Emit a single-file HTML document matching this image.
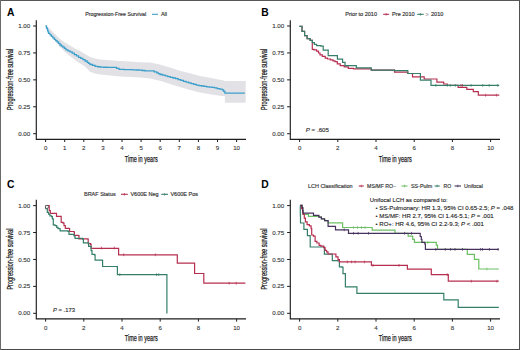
<!DOCTYPE html>
<html><head><meta charset="utf-8"><style>
html,body{margin:0;padding:0;background:#fff;width:520px;height:350px;overflow:hidden}
svg{display:block}
text{font-family:"Liberation Sans", sans-serif}
</style></head><body>
<svg width="520" height="350" viewBox="0 0 520 350" font-family='"Liberation Sans", sans-serif'>
<rect x="0" y="0" width="520" height="350" fill="#fff"/>
<path d="M45.50,25.50L50.00,29.00L55.00,34.00L60.00,39.00L65.00,42.50L70.00,45.50L75.00,48.50L80.00,51.00L85.00,54.00L90.00,57.00L95.00,58.60L100.00,59.50L110.00,60.20L120.00,61.00L130.00,61.60L140.00,62.20L150.00,62.60L160.00,64.60L170.00,67.40L180.00,70.80L190.00,73.20L200.00,76.00L210.00,77.80L220.00,79.80L224.90,80.80L224.90,81.10L245.70,81.10L245.70,102.70L224.90,102.70L224.90,96.30L220.00,95.80L210.00,94.20L200.00,92.50L190.00,90.00L180.00,87.00L170.00,84.00L160.00,80.80L150.00,78.50L140.00,77.60L130.00,77.00L120.00,76.50L110.00,75.50L100.00,74.50L95.00,73.50L90.00,71.70L85.00,66.50L80.00,63.50L75.00,60.00L70.00,56.00L65.00,52.00L60.00,47.00L55.00,41.00L50.00,33.00L45.50,26.50Z" fill="#e2e1e6" stroke="none"/>
<path d="M45.50,26.00H46.50V28.25H47.50V30.50H48.05V31.95H48.60V33.40H50.00V34.90H51.40V36.40H52.85V37.85H54.30V39.30H55.70V40.55H57.10V41.80H58.55V43.40H60.00V45.00H61.45V46.05H62.90V47.10H64.45V48.45H66.00V49.80H68.00V50.80H70.00V51.80H72.15V53.20H74.30V54.60H76.45V55.95H78.60V57.30H80.75V58.45H82.90V59.60H85.00V61.00H87.10V62.40H88.55V63.45H90.00V64.50H92.55V65.45H95.10V66.40H97.70V66.75H100.30V67.10H103.70V67.25H107.10V67.40H110.55V67.40H114.00V67.40H116.55V68.35H119.10V69.30H121.70V69.45H124.30V69.60H128.55V69.70H132.80V69.80H136.25V70.00H139.70V70.20H142.25V70.50H144.80V70.80H148.25V70.85H151.70V70.90H154.25V71.90H156.80V72.90H158.40V73.70H160.00V74.50H162.60V75.20H165.20V75.90H167.80V76.60H170.40V77.30H173.00V78.00H175.60V78.70H178.20V79.55H180.80V80.40H183.40V81.30H186.00V82.20H188.60V82.95H191.20V83.70H193.75V84.40H196.30V85.10H198.90V85.55H201.50V86.00H204.10V86.40H206.70V86.80H209.30V87.05H211.90V87.30H214.50V87.95H217.10V88.60H219.70V89.20H222.30V89.80H223.60V91.45H224.90V93.10H234.85V93.10H244.80V93.10" fill="none" stroke="#3b9fcb" stroke-width="1.3"/>
<path d="M36.3,20.2V139.3H246.0" fill="none" stroke="#1e1e1e" stroke-width="1.15"/>
<path d="M33.10,26.00H36.3" stroke="#1e1e1e" stroke-width="1.0"/>
<text x="30.30" y="28.10" font-size="6.1" text-anchor="end" fill="#3a3a3a" font-weight="normal" font-style="normal" textLength="12.1" lengthAdjust="spacingAndGlyphs" stroke="#3a3a3a" stroke-width="0.12">1.00</text>
<path d="M33.10,52.93H36.3" stroke="#1e1e1e" stroke-width="1.0"/>
<text x="30.30" y="55.03" font-size="6.1" text-anchor="end" fill="#3a3a3a" font-weight="normal" font-style="normal" textLength="12.1" lengthAdjust="spacingAndGlyphs" stroke="#3a3a3a" stroke-width="0.12">0.75</text>
<path d="M33.10,79.86H36.3" stroke="#1e1e1e" stroke-width="1.0"/>
<text x="30.30" y="81.96" font-size="6.1" text-anchor="end" fill="#3a3a3a" font-weight="normal" font-style="normal" textLength="12.1" lengthAdjust="spacingAndGlyphs" stroke="#3a3a3a" stroke-width="0.12">0.50</text>
<path d="M33.10,106.79H36.3" stroke="#1e1e1e" stroke-width="1.0"/>
<text x="30.30" y="108.89" font-size="6.1" text-anchor="end" fill="#3a3a3a" font-weight="normal" font-style="normal" textLength="12.1" lengthAdjust="spacingAndGlyphs" stroke="#3a3a3a" stroke-width="0.12">0.25</text>
<path d="M33.10,133.72H36.3" stroke="#1e1e1e" stroke-width="1.0"/>
<text x="30.30" y="135.82" font-size="6.1" text-anchor="end" fill="#3a3a3a" font-weight="normal" font-style="normal" textLength="12.1" lengthAdjust="spacingAndGlyphs" stroke="#3a3a3a" stroke-width="0.12">0.00</text>
<path d="M45.60,139.3V142.00" stroke="#1e1e1e" stroke-width="1.0"/>
<text x="45.60" y="150.10" font-size="6.1" text-anchor="middle" fill="#3a3a3a" font-weight="normal" font-style="normal" stroke="#3a3a3a" stroke-width="0.12">0</text>
<path d="M64.70,139.3V142.00" stroke="#1e1e1e" stroke-width="1.0"/>
<text x="64.70" y="150.10" font-size="6.1" text-anchor="middle" fill="#3a3a3a" font-weight="normal" font-style="normal" stroke="#3a3a3a" stroke-width="0.12">1</text>
<path d="M83.80,139.3V142.00" stroke="#1e1e1e" stroke-width="1.0"/>
<text x="83.80" y="150.10" font-size="6.1" text-anchor="middle" fill="#3a3a3a" font-weight="normal" font-style="normal" stroke="#3a3a3a" stroke-width="0.12">2</text>
<path d="M102.90,139.3V142.00" stroke="#1e1e1e" stroke-width="1.0"/>
<text x="102.90" y="150.10" font-size="6.1" text-anchor="middle" fill="#3a3a3a" font-weight="normal" font-style="normal" stroke="#3a3a3a" stroke-width="0.12">3</text>
<path d="M122.00,139.3V142.00" stroke="#1e1e1e" stroke-width="1.0"/>
<text x="122.00" y="150.10" font-size="6.1" text-anchor="middle" fill="#3a3a3a" font-weight="normal" font-style="normal" stroke="#3a3a3a" stroke-width="0.12">4</text>
<path d="M141.10,139.3V142.00" stroke="#1e1e1e" stroke-width="1.0"/>
<text x="141.10" y="150.10" font-size="6.1" text-anchor="middle" fill="#3a3a3a" font-weight="normal" font-style="normal" stroke="#3a3a3a" stroke-width="0.12">5</text>
<path d="M160.20,139.3V142.00" stroke="#1e1e1e" stroke-width="1.0"/>
<text x="160.20" y="150.10" font-size="6.1" text-anchor="middle" fill="#3a3a3a" font-weight="normal" font-style="normal" stroke="#3a3a3a" stroke-width="0.12">6</text>
<path d="M179.30,139.3V142.00" stroke="#1e1e1e" stroke-width="1.0"/>
<text x="179.30" y="150.10" font-size="6.1" text-anchor="middle" fill="#3a3a3a" font-weight="normal" font-style="normal" stroke="#3a3a3a" stroke-width="0.12">7</text>
<path d="M198.40,139.3V142.00" stroke="#1e1e1e" stroke-width="1.0"/>
<text x="198.40" y="150.10" font-size="6.1" text-anchor="middle" fill="#3a3a3a" font-weight="normal" font-style="normal" stroke="#3a3a3a" stroke-width="0.12">8</text>
<path d="M217.50,139.3V142.00" stroke="#1e1e1e" stroke-width="1.0"/>
<text x="217.50" y="150.10" font-size="6.1" text-anchor="middle" fill="#3a3a3a" font-weight="normal" font-style="normal" stroke="#3a3a3a" stroke-width="0.12">9</text>
<path d="M236.60,139.3V142.00" stroke="#1e1e1e" stroke-width="1.0"/>
<text x="236.60" y="150.10" font-size="6.1" text-anchor="middle" fill="#3a3a3a" font-weight="normal" font-style="normal" stroke="#3a3a3a" stroke-width="0.12">10</text>
<text x="141.25" y="161.50" font-size="8.3" text-anchor="middle" fill="#222" font-weight="normal" font-style="normal" textLength="33.0" lengthAdjust="spacingAndGlyphs" stroke="#222" stroke-width="0.25">Time in years</text>
<text x="0" y="0" transform="translate(12.80,79.50) rotate(-90)" font-size="8.3" text-anchor="middle" fill="#222" stroke="#222" stroke-width="0.25" textLength="61" lengthAdjust="spacingAndGlyphs">Progression-free survival</text>
<text x="7.10" y="15.70" font-size="10.3" text-anchor="start" fill="#000" font-weight="bold" font-style="normal">A</text>
<text x="85.20" y="15.50" font-size="4.9" text-anchor="start" fill="#333" font-weight="normal" font-style="normal" textLength="61.0" lengthAdjust="spacingAndGlyphs" stroke="#333" stroke-width="0.15">Progression-Free Survival</text>
<path d="M152,14.3H158" stroke="#3b9fcb" stroke-width="1.1"/>
<text x="160.90" y="15.60" font-size="4.9" text-anchor="start" fill="#333" font-weight="normal" font-style="normal" textLength="6.0" lengthAdjust="spacingAndGlyphs" stroke="#333" stroke-width="0.15">All</text>
<path d="M299.40,26.30H302.00V31.40H304.60V35.70H307.10V38.70H310.10V40.40H312.30V42.60H312.30V49.40H314.00V49.90H316.60V51.10H318.50V53.00H320.00V54.90H322.30V56.40H325.20V58.20H327.50V59.00H330.40V59.90H333.00V60.80H335.00V61.60H337.30V63.90H340.20V65.70H344.20V66.80H348.30V68.30H353.50V68.80H371.00V68.80H371.30V70.10H394.50V70.10H394.50V72.20H407.80V72.20H407.80V73.50H412.50V73.50H412.50V76.90H424.20V76.90H424.20V79.00H436.90V79.00H436.90V82.20H443.70V82.20H443.70V84.00H447.30V84.00H447.30V85.40H458.10V85.40H458.10V87.30H466.80V87.30H466.80V89.40H473.30V89.40H473.30V91.60H478.30V91.60H478.30V95.20H499.30V95.20" fill="none" stroke="#b72f50" stroke-width="1.2"/>
<path d="M299.40,26.30H302.00V31.40H304.60V35.70H307.10V38.70H310.10V40.40H312.30V42.60H314.40V44.30H316.60V45.60H320.90V46.20H323.20V46.60H323.20V50.20H328.20V50.30H328.20V55.70H337.40V55.80H337.40V59.20H342.60V59.30H342.60V62.30H345.00V62.50H345.00V65.70H356.00V65.70H356.30V67.80H371.00V68.00H371.30V70.10H394.50V70.10H394.50V70.60H407.80V70.60H407.80V73.50H420.40V73.50H420.40V80.10H431.00V80.10H431.00V85.40H499.20V85.40" fill="none" stroke="#357f6a" stroke-width="1.2"/>
<path d="M435.80,84.00V86.80" stroke="#357f6a" stroke-width="0.7"/>
<path d="M447.30,84.00V86.80" stroke="#357f6a" stroke-width="0.7"/>
<path d="M450.20,84.00V86.80" stroke="#357f6a" stroke-width="0.7"/>
<path d="M455.30,84.00V86.80" stroke="#357f6a" stroke-width="0.7"/>
<path d="M471.10,84.00V86.80" stroke="#357f6a" stroke-width="0.7"/>
<path d="M482.70,84.00V86.80" stroke="#357f6a" stroke-width="0.7"/>
<path d="M489.20,84.00V86.80" stroke="#357f6a" stroke-width="0.7"/>
<path d="M497.80,84.00V86.80" stroke="#357f6a" stroke-width="0.7"/>
<path d="M461.00,84.00V86.80" stroke="#b72f50" stroke-width="0.7"/>
<path d="M462.50,84.00V86.80" stroke="#b72f50" stroke-width="0.7"/>
<path d="M485.60,93.80V96.60" stroke="#b72f50" stroke-width="0.7"/>
<path d="M496.40,93.80V96.60" stroke="#b72f50" stroke-width="0.7"/>
<path d="M290.3,20.2V139.3H500.0" fill="none" stroke="#1e1e1e" stroke-width="1.15"/>
<path d="M287.10,26.00H290.3" stroke="#1e1e1e" stroke-width="1.0"/>
<text x="284.30" y="28.10" font-size="6.1" text-anchor="end" fill="#3a3a3a" font-weight="normal" font-style="normal" textLength="12.1" lengthAdjust="spacingAndGlyphs" stroke="#3a3a3a" stroke-width="0.12">1.00</text>
<path d="M287.10,52.93H290.3" stroke="#1e1e1e" stroke-width="1.0"/>
<text x="284.30" y="55.03" font-size="6.1" text-anchor="end" fill="#3a3a3a" font-weight="normal" font-style="normal" textLength="12.1" lengthAdjust="spacingAndGlyphs" stroke="#3a3a3a" stroke-width="0.12">0.75</text>
<path d="M287.10,79.86H290.3" stroke="#1e1e1e" stroke-width="1.0"/>
<text x="284.30" y="81.96" font-size="6.1" text-anchor="end" fill="#3a3a3a" font-weight="normal" font-style="normal" textLength="12.1" lengthAdjust="spacingAndGlyphs" stroke="#3a3a3a" stroke-width="0.12">0.50</text>
<path d="M287.10,106.79H290.3" stroke="#1e1e1e" stroke-width="1.0"/>
<text x="284.30" y="108.89" font-size="6.1" text-anchor="end" fill="#3a3a3a" font-weight="normal" font-style="normal" textLength="12.1" lengthAdjust="spacingAndGlyphs" stroke="#3a3a3a" stroke-width="0.12">0.25</text>
<path d="M287.10,133.72H290.3" stroke="#1e1e1e" stroke-width="1.0"/>
<text x="284.30" y="135.82" font-size="6.1" text-anchor="end" fill="#3a3a3a" font-weight="normal" font-style="normal" textLength="12.1" lengthAdjust="spacingAndGlyphs" stroke="#3a3a3a" stroke-width="0.12">0.00</text>
<path d="M299.60,139.3V142.00" stroke="#1e1e1e" stroke-width="1.0"/>
<text x="299.60" y="150.10" font-size="6.1" text-anchor="middle" fill="#3a3a3a" font-weight="normal" font-style="normal" stroke="#3a3a3a" stroke-width="0.12">0</text>
<path d="M337.80,139.3V142.00" stroke="#1e1e1e" stroke-width="1.0"/>
<text x="337.80" y="150.10" font-size="6.1" text-anchor="middle" fill="#3a3a3a" font-weight="normal" font-style="normal" stroke="#3a3a3a" stroke-width="0.12">2</text>
<path d="M376.00,139.3V142.00" stroke="#1e1e1e" stroke-width="1.0"/>
<text x="376.00" y="150.10" font-size="6.1" text-anchor="middle" fill="#3a3a3a" font-weight="normal" font-style="normal" stroke="#3a3a3a" stroke-width="0.12">4</text>
<path d="M414.20,139.3V142.00" stroke="#1e1e1e" stroke-width="1.0"/>
<text x="414.20" y="150.10" font-size="6.1" text-anchor="middle" fill="#3a3a3a" font-weight="normal" font-style="normal" stroke="#3a3a3a" stroke-width="0.12">6</text>
<path d="M452.40,139.3V142.00" stroke="#1e1e1e" stroke-width="1.0"/>
<text x="452.40" y="150.10" font-size="6.1" text-anchor="middle" fill="#3a3a3a" font-weight="normal" font-style="normal" stroke="#3a3a3a" stroke-width="0.12">8</text>
<path d="M490.60,139.3V142.00" stroke="#1e1e1e" stroke-width="1.0"/>
<text x="490.60" y="150.10" font-size="6.1" text-anchor="middle" fill="#3a3a3a" font-weight="normal" font-style="normal" stroke="#3a3a3a" stroke-width="0.12">10</text>
<text x="395.25" y="161.50" font-size="8.3" text-anchor="middle" fill="#222" font-weight="normal" font-style="normal" textLength="33.0" lengthAdjust="spacingAndGlyphs" stroke="#222" stroke-width="0.25">Time in years</text>
<text x="0" y="0" transform="translate(266.80,79.50) rotate(-90)" font-size="8.3" text-anchor="middle" fill="#222" stroke="#222" stroke-width="0.25" textLength="61" lengthAdjust="spacingAndGlyphs">Progression-free survival</text>
<text x="261.30" y="15.80" font-size="10.3" text-anchor="start" fill="#000" font-weight="bold" font-style="normal">B</text>
<text x="345.30" y="15.60" font-size="4.9" text-anchor="start" fill="#333" font-weight="normal" font-style="normal" textLength="31.7" lengthAdjust="spacingAndGlyphs" stroke="#333" stroke-width="0.15">Prior to 2010</text>
<path d="M383.20,14.30H389.20" stroke="#b72f50" stroke-width="1.1"/>
<path d="M386.20,13.00V15.60" stroke="#b72f50" stroke-width="0.7"/>
<text x="392.10" y="15.60" font-size="4.9" text-anchor="start" fill="#333" font-weight="normal" font-style="normal" textLength="22.5" lengthAdjust="spacingAndGlyphs" stroke="#333" stroke-width="0.15">Pre 2010</text>
<path d="M417.20,14.30H423.70" stroke="#357f6a" stroke-width="1.1"/>
<path d="M420.45,13.00V15.60" stroke="#357f6a" stroke-width="0.7"/>
<text x="425.80" y="15.60" font-size="4.9" text-anchor="start" fill="#888" font-weight="normal" font-style="normal" textLength="3.0" lengthAdjust="spacingAndGlyphs">≥</text>
<text x="431.00" y="15.60" font-size="4.9" text-anchor="start" fill="#333" font-weight="normal" font-style="normal" textLength="12.5" lengthAdjust="spacingAndGlyphs" stroke="#333" stroke-width="0.15">2010</text>
<text x="305.80" y="132.00" font-size="6.0" text-anchor="start" fill="#333" font-weight="normal" font-style="normal" textLength="23.1" lengthAdjust="spacingAndGlyphs" stroke="#333" stroke-width="0.15"><tspan font-style="italic">P</tspan> = .605</text>
<path d="M45.70,205.50H49.20V205.50H49.20V210.70H50.30V213.30H56.50V213.30H56.50V216.40H61.20V216.40H61.20V222.30H63.10V223.10H64.00V225.70H65.30V228.30H69.00V228.50H69.60V231.50H74.00V232.00H74.40V235.30H78.50V235.60H79.00V238.90H87.90V239.20H88.20V243.70H90.60V244.40H91.10V248.40H118.60V248.40H118.60V254.80H177.30V254.80H177.30V263.10H194.60V263.10H194.60V273.50H203.80V273.50H203.80V283.20H245.40V283.20" fill="none" stroke="#b72f50" stroke-width="1.2"/>
<path d="M45.70,205.50H45.70V208.60H47.20V208.60H47.30V212.40H48.60V214.10H49.90V215.90H51.60V216.70H52.40V218.90H53.30V224.90H55.00V225.70H56.70V227.40H58.00V228.70H60.10V230.90H68.00V231.40H69.00V234.40H74.00V236.00H75.00V238.40H82.60V239.20H83.40V242.90H87.70V242.90H88.60V246.30H91.10V250.60H92.00V254.30H94.60V254.90H95.10V260.20H102.30V260.30H102.60V266.50H116.90V266.70H117.40V274.60H166.90V274.60H166.90V313.40" fill="none" stroke="#357f6a" stroke-width="1.2"/>
<circle cx="46.9" cy="206.9" r="1.6" fill="#fff" stroke="#444" stroke-width="0.8"/>
<path d="M101.40,246.60V249.40" stroke="#b72f50" stroke-width="0.7"/>
<path d="M114.30,246.60V249.40" stroke="#b72f50" stroke-width="0.7"/>
<path d="M123.70,253.40V256.20" stroke="#b72f50" stroke-width="0.7"/>
<path d="M155.40,253.40V256.20" stroke="#b72f50" stroke-width="0.7"/>
<path d="M229.20,281.80V284.60" stroke="#b72f50" stroke-width="0.7"/>
<path d="M236.20,281.80V284.60" stroke="#b72f50" stroke-width="0.7"/>
<path d="M119.80,273.20V276.00" stroke="#357f6a" stroke-width="0.7"/>
<path d="M156.50,273.20V276.00" stroke="#357f6a" stroke-width="0.7"/>
<path d="M158.80,273.20V276.00" stroke="#357f6a" stroke-width="0.7"/>
<path d="M36.3,199.79999999999998V318.9H246.0" fill="none" stroke="#1e1e1e" stroke-width="1.15"/>
<path d="M33.10,205.60H36.3" stroke="#1e1e1e" stroke-width="1.0"/>
<text x="30.30" y="207.70" font-size="6.1" text-anchor="end" fill="#3a3a3a" font-weight="normal" font-style="normal" textLength="12.1" lengthAdjust="spacingAndGlyphs" stroke="#3a3a3a" stroke-width="0.12">1.00</text>
<path d="M33.10,232.53H36.3" stroke="#1e1e1e" stroke-width="1.0"/>
<text x="30.30" y="234.63" font-size="6.1" text-anchor="end" fill="#3a3a3a" font-weight="normal" font-style="normal" textLength="12.1" lengthAdjust="spacingAndGlyphs" stroke="#3a3a3a" stroke-width="0.12">0.75</text>
<path d="M33.10,259.46H36.3" stroke="#1e1e1e" stroke-width="1.0"/>
<text x="30.30" y="261.56" font-size="6.1" text-anchor="end" fill="#3a3a3a" font-weight="normal" font-style="normal" textLength="12.1" lengthAdjust="spacingAndGlyphs" stroke="#3a3a3a" stroke-width="0.12">0.50</text>
<path d="M33.10,286.39H36.3" stroke="#1e1e1e" stroke-width="1.0"/>
<text x="30.30" y="288.49" font-size="6.1" text-anchor="end" fill="#3a3a3a" font-weight="normal" font-style="normal" textLength="12.1" lengthAdjust="spacingAndGlyphs" stroke="#3a3a3a" stroke-width="0.12">0.25</text>
<path d="M33.10,313.32H36.3" stroke="#1e1e1e" stroke-width="1.0"/>
<text x="30.30" y="315.42" font-size="6.1" text-anchor="end" fill="#3a3a3a" font-weight="normal" font-style="normal" textLength="12.1" lengthAdjust="spacingAndGlyphs" stroke="#3a3a3a" stroke-width="0.12">0.00</text>
<path d="M45.60,318.9V321.60" stroke="#1e1e1e" stroke-width="1.0"/>
<text x="45.60" y="329.70" font-size="6.1" text-anchor="middle" fill="#3a3a3a" font-weight="normal" font-style="normal" stroke="#3a3a3a" stroke-width="0.12">0</text>
<path d="M83.80,318.9V321.60" stroke="#1e1e1e" stroke-width="1.0"/>
<text x="83.80" y="329.70" font-size="6.1" text-anchor="middle" fill="#3a3a3a" font-weight="normal" font-style="normal" stroke="#3a3a3a" stroke-width="0.12">2</text>
<path d="M122.00,318.9V321.60" stroke="#1e1e1e" stroke-width="1.0"/>
<text x="122.00" y="329.70" font-size="6.1" text-anchor="middle" fill="#3a3a3a" font-weight="normal" font-style="normal" stroke="#3a3a3a" stroke-width="0.12">4</text>
<path d="M160.20,318.9V321.60" stroke="#1e1e1e" stroke-width="1.0"/>
<text x="160.20" y="329.70" font-size="6.1" text-anchor="middle" fill="#3a3a3a" font-weight="normal" font-style="normal" stroke="#3a3a3a" stroke-width="0.12">6</text>
<path d="M198.40,318.9V321.60" stroke="#1e1e1e" stroke-width="1.0"/>
<text x="198.40" y="329.70" font-size="6.1" text-anchor="middle" fill="#3a3a3a" font-weight="normal" font-style="normal" stroke="#3a3a3a" stroke-width="0.12">8</text>
<path d="M236.60,318.9V321.60" stroke="#1e1e1e" stroke-width="1.0"/>
<text x="236.60" y="329.70" font-size="6.1" text-anchor="middle" fill="#3a3a3a" font-weight="normal" font-style="normal" stroke="#3a3a3a" stroke-width="0.12">10</text>
<text x="141.25" y="341.10" font-size="8.3" text-anchor="middle" fill="#222" font-weight="normal" font-style="normal" textLength="33.0" lengthAdjust="spacingAndGlyphs" stroke="#222" stroke-width="0.25">Time in years</text>
<text x="0" y="0" transform="translate(12.80,259.10) rotate(-90)" font-size="8.3" text-anchor="middle" fill="#222" stroke="#222" stroke-width="0.25" textLength="61" lengthAdjust="spacingAndGlyphs">Progression-free survival</text>
<text x="7.10" y="187.80" font-size="10.3" text-anchor="start" fill="#000" font-weight="bold" font-style="normal">C</text>
<text x="84.00" y="196.00" font-size="4.9" text-anchor="start" fill="#333" font-weight="normal" font-style="normal" textLength="31.7" lengthAdjust="spacingAndGlyphs" stroke="#333" stroke-width="0.15">BRAF Status</text>
<path d="M121.00,194.30H127.80" stroke="#b72f50" stroke-width="1.1"/>
<path d="M124.40,193.00V195.60" stroke="#b72f50" stroke-width="0.7"/>
<text x="130.40" y="196.00" font-size="4.9" text-anchor="start" fill="#333" font-weight="normal" font-style="normal" textLength="28.2" lengthAdjust="spacingAndGlyphs" stroke="#333" stroke-width="0.15">V600E Neg</text>
<path d="M161.30,194.30H168.00" stroke="#357f6a" stroke-width="1.1"/>
<path d="M164.65,193.00V195.60" stroke="#357f6a" stroke-width="0.7"/>
<text x="170.40" y="196.00" font-size="4.9" text-anchor="start" fill="#333" font-weight="normal" font-style="normal" textLength="27.6" lengthAdjust="spacingAndGlyphs" stroke="#333" stroke-width="0.15">V600E Pos</text>
<text x="52.90" y="311.60" font-size="6.0" text-anchor="start" fill="#333" font-weight="normal" font-style="normal" textLength="22.1" lengthAdjust="spacingAndGlyphs" stroke="#333" stroke-width="0.15"><tspan font-style="italic">P</tspan> = .173</text>
<path d="M300.30,205.40H302.10V207.50H302.80V210.70H302.80V214.30H308.50V214.30H308.50V216.40H318.10V216.40H318.90V217.10H321.40V217.10H321.40V218.90H324.60V218.90H324.60V220.70H327.80V221.20H328.10V222.90H342.60V222.90H342.60V227.50H372.20V227.50H372.20V230.20H395.00V230.20H395.00V233.30H407.80V233.30H408.10V236.10H412.40V236.30H412.70V239.40H414.40V242.40H435.80V242.40H436.30V245.20H437.50V249.40H467.30V249.40H467.30V254.40H474.40V254.40H474.40V259.40H478.80V259.40H478.80V269.00H498.80V269.00" fill="none" stroke="#6dbf63" stroke-width="1.2"/>
<path d="M300.30,205.40H300.30V215.00H300.50V223.00H303.80V223.20H303.90V229.40H307.20V229.50H307.40V235.70H310.10V235.80H310.20V247.00H322.60V247.00H324.40V247.60H324.40V254.10H332.30V254.20H332.30V260.60H338.00V260.80H339.40V266.90H342.30V267.40H343.00V273.60H345.20V274.00H345.40V286.90H356.70V286.90H356.90V293.30H443.50V293.30H443.80V299.90H457.90V299.90H458.20V307.40H498.80V307.40" fill="none" stroke="#357f6a" stroke-width="1.2"/>
<path d="M300.30,205.40H301.40V208.60H302.60V212.50H303.10V214.30H304.30V218.20H305.40V221.90H307.10V224.70H309.40V225.90H311.10V228.70H311.70V235.00H313.40V236.10H315.10V241.30H316.90V243.00H319.10V245.30H320.90V246.10H323.70V247.60H325.10V250.40H326.60V251.80H328.00V254.00H335.10V254.20H335.90V256.90H338.00V259.70H339.40V261.90H371.10V261.90H371.40V265.40H407.00V265.40H407.40V269.20H431.00V269.20H431.30V274.70H448.00V274.70H448.30V281.20H498.80V281.20" fill="none" stroke="#b72f50" stroke-width="1.2"/>
<path d="M300.30,205.40H302.10V207.50H302.80V210.70H303.10V213.20H313.50V213.20H313.50V215.40H318.90V215.40H318.90V217.10H321.40V217.10H321.40V218.90H324.60V218.90H324.60V220.70H328.10V220.70H328.10V226.30H335.50V226.30H335.50V229.80H348.50V229.80H348.50V233.30H419.80V233.30H420.20V236.50H421.30V239.40H421.90V242.30H424.80V244.00H425.40V249.40H498.80V249.40" fill="none" stroke="#46305c" stroke-width="1.2"/>
<path d="M445.30,248.00V250.80" stroke="#46305c" stroke-width="0.7"/>
<path d="M450.60,248.00V250.80" stroke="#46305c" stroke-width="0.7"/>
<path d="M455.00,248.00V250.80" stroke="#46305c" stroke-width="0.7"/>
<path d="M462.50,248.00V250.80" stroke="#46305c" stroke-width="0.7"/>
<path d="M480.60,248.00V250.80" stroke="#46305c" stroke-width="0.7"/>
<path d="M482.50,248.00V250.80" stroke="#46305c" stroke-width="0.7"/>
<path d="M489.40,248.00V250.80" stroke="#46305c" stroke-width="0.7"/>
<path d="M498.10,248.00V250.80" stroke="#46305c" stroke-width="0.7"/>
<path d="M435.80,248.00V250.80" stroke="#46305c" stroke-width="0.7"/>
<path d="M353.50,231.90V234.70" stroke="#46305c" stroke-width="0.7"/>
<path d="M358.10,231.90V234.70" stroke="#46305c" stroke-width="0.7"/>
<path d="M368.50,231.90V234.70" stroke="#46305c" stroke-width="0.7"/>
<path d="M404.60,231.90V234.70" stroke="#46305c" stroke-width="0.7"/>
<path d="M411.50,231.90V234.70" stroke="#46305c" stroke-width="0.7"/>
<path d="M344.20,228.40V231.20" stroke="#46305c" stroke-width="0.7"/>
<path d="M353.50,226.10V228.90" stroke="#6dbf63" stroke-width="0.7"/>
<path d="M357.50,226.10V228.90" stroke="#6dbf63" stroke-width="0.7"/>
<path d="M361.50,226.10V228.90" stroke="#6dbf63" stroke-width="0.7"/>
<path d="M365.00,226.10V228.90" stroke="#6dbf63" stroke-width="0.7"/>
<path d="M427.70,241.00V243.80" stroke="#6dbf63" stroke-width="0.7"/>
<path d="M486.90,267.60V270.40" stroke="#6dbf63" stroke-width="0.7"/>
<path d="M347.30,260.50V263.30" stroke="#b72f50" stroke-width="0.7"/>
<path d="M351.60,260.50V263.30" stroke="#b72f50" stroke-width="0.7"/>
<path d="M355.10,260.50V263.30" stroke="#b72f50" stroke-width="0.7"/>
<path d="M364.40,260.50V263.30" stroke="#b72f50" stroke-width="0.7"/>
<path d="M373.00,264.00V266.80" stroke="#b72f50" stroke-width="0.7"/>
<path d="M399.00,264.00V266.80" stroke="#b72f50" stroke-width="0.7"/>
<path d="M471.30,279.80V282.60" stroke="#b72f50" stroke-width="0.7"/>
<path d="M496.90,279.80V282.60" stroke="#b72f50" stroke-width="0.7"/>
<path d="M447.30,273.30V276.10" stroke="#b72f50" stroke-width="0.7"/>
<path d="M290.3,199.79999999999998V318.9H500.0" fill="none" stroke="#1e1e1e" stroke-width="1.15"/>
<path d="M287.10,205.60H290.3" stroke="#1e1e1e" stroke-width="1.0"/>
<text x="284.30" y="207.70" font-size="6.1" text-anchor="end" fill="#3a3a3a" font-weight="normal" font-style="normal" textLength="12.1" lengthAdjust="spacingAndGlyphs" stroke="#3a3a3a" stroke-width="0.12">1.00</text>
<path d="M287.10,232.53H290.3" stroke="#1e1e1e" stroke-width="1.0"/>
<text x="284.30" y="234.63" font-size="6.1" text-anchor="end" fill="#3a3a3a" font-weight="normal" font-style="normal" textLength="12.1" lengthAdjust="spacingAndGlyphs" stroke="#3a3a3a" stroke-width="0.12">0.75</text>
<path d="M287.10,259.46H290.3" stroke="#1e1e1e" stroke-width="1.0"/>
<text x="284.30" y="261.56" font-size="6.1" text-anchor="end" fill="#3a3a3a" font-weight="normal" font-style="normal" textLength="12.1" lengthAdjust="spacingAndGlyphs" stroke="#3a3a3a" stroke-width="0.12">0.50</text>
<path d="M287.10,286.39H290.3" stroke="#1e1e1e" stroke-width="1.0"/>
<text x="284.30" y="288.49" font-size="6.1" text-anchor="end" fill="#3a3a3a" font-weight="normal" font-style="normal" textLength="12.1" lengthAdjust="spacingAndGlyphs" stroke="#3a3a3a" stroke-width="0.12">0.25</text>
<path d="M287.10,313.32H290.3" stroke="#1e1e1e" stroke-width="1.0"/>
<text x="284.30" y="315.42" font-size="6.1" text-anchor="end" fill="#3a3a3a" font-weight="normal" font-style="normal" textLength="12.1" lengthAdjust="spacingAndGlyphs" stroke="#3a3a3a" stroke-width="0.12">0.00</text>
<path d="M299.60,318.9V321.60" stroke="#1e1e1e" stroke-width="1.0"/>
<text x="299.60" y="329.70" font-size="6.1" text-anchor="middle" fill="#3a3a3a" font-weight="normal" font-style="normal" stroke="#3a3a3a" stroke-width="0.12">0</text>
<path d="M337.80,318.9V321.60" stroke="#1e1e1e" stroke-width="1.0"/>
<text x="337.80" y="329.70" font-size="6.1" text-anchor="middle" fill="#3a3a3a" font-weight="normal" font-style="normal" stroke="#3a3a3a" stroke-width="0.12">2</text>
<path d="M376.00,318.9V321.60" stroke="#1e1e1e" stroke-width="1.0"/>
<text x="376.00" y="329.70" font-size="6.1" text-anchor="middle" fill="#3a3a3a" font-weight="normal" font-style="normal" stroke="#3a3a3a" stroke-width="0.12">4</text>
<path d="M414.20,318.9V321.60" stroke="#1e1e1e" stroke-width="1.0"/>
<text x="414.20" y="329.70" font-size="6.1" text-anchor="middle" fill="#3a3a3a" font-weight="normal" font-style="normal" stroke="#3a3a3a" stroke-width="0.12">6</text>
<path d="M452.40,318.9V321.60" stroke="#1e1e1e" stroke-width="1.0"/>
<text x="452.40" y="329.70" font-size="6.1" text-anchor="middle" fill="#3a3a3a" font-weight="normal" font-style="normal" stroke="#3a3a3a" stroke-width="0.12">8</text>
<path d="M490.60,318.9V321.60" stroke="#1e1e1e" stroke-width="1.0"/>
<text x="490.60" y="329.70" font-size="6.1" text-anchor="middle" fill="#3a3a3a" font-weight="normal" font-style="normal" stroke="#3a3a3a" stroke-width="0.12">10</text>
<text x="395.25" y="341.10" font-size="8.3" text-anchor="middle" fill="#222" font-weight="normal" font-style="normal" textLength="33.0" lengthAdjust="spacingAndGlyphs" stroke="#222" stroke-width="0.25">Time in years</text>
<text x="0" y="0" transform="translate(266.80,259.10) rotate(-90)" font-size="8.3" text-anchor="middle" fill="#222" stroke="#222" stroke-width="0.25" textLength="61" lengthAdjust="spacingAndGlyphs">Progression-free survival</text>
<text x="261.30" y="188.00" font-size="10.3" text-anchor="start" fill="#000" font-weight="bold" font-style="normal">D</text>
<text x="308.00" y="187.70" font-size="4.9" text-anchor="start" fill="#333" font-weight="normal" font-style="normal" textLength="44.5" lengthAdjust="spacingAndGlyphs" stroke="#333" stroke-width="0.15">LCH Classification</text>
<path d="M358.70,186.00H363.80" stroke="#b72f50" stroke-width="1.1"/>
<path d="M361.25,184.70V187.30" stroke="#b72f50" stroke-width="0.7"/>
<text x="367.10" y="187.70" font-size="4.9" text-anchor="start" fill="#333" font-weight="normal" font-style="normal" textLength="29.1" lengthAdjust="spacingAndGlyphs" stroke="#333" stroke-width="0.15">MS/MF RO−</text>
<path d="M401.50,186.00H407.50" stroke="#6dbf63" stroke-width="1.1"/>
<path d="M404.50,184.70V187.30" stroke="#6dbf63" stroke-width="0.7"/>
<text x="411.00" y="187.70" font-size="4.9" text-anchor="start" fill="#333" font-weight="normal" font-style="normal" textLength="21.1" lengthAdjust="spacingAndGlyphs" stroke="#333" stroke-width="0.15">SS-Pulm</text>
<path d="M434.60,186.00H439.80" stroke="#357f6a" stroke-width="1.1"/>
<path d="M437.20,184.70V187.30" stroke="#357f6a" stroke-width="0.7"/>
<text x="443.60" y="187.70" font-size="4.9" text-anchor="start" fill="#333" font-weight="normal" font-style="normal" textLength="7.7" lengthAdjust="spacingAndGlyphs" stroke="#333" stroke-width="0.15">RO</text>
<path d="M454.60,186.00H461.00" stroke="#46305c" stroke-width="1.1"/>
<path d="M457.80,184.70V187.30" stroke="#46305c" stroke-width="0.7"/>
<text x="464.10" y="187.70" font-size="4.9" text-anchor="start" fill="#333" font-weight="normal" font-style="normal" textLength="18.8" lengthAdjust="spacingAndGlyphs" stroke="#333" stroke-width="0.15">Unifocal</text>
<text x="369.80" y="202.00" font-size="5.9" text-anchor="start" fill="#222" font-weight="normal" font-style="normal" textLength="77.7" lengthAdjust="spacingAndGlyphs" stroke="#222" stroke-width="0.12">Unifocal LCH as compared to:</text>
<text x="375.50" y="210.10" font-size="5.9" text-anchor="start" fill="#222" font-weight="normal" font-style="normal" textLength="138.0" lengthAdjust="spacingAndGlyphs" stroke="#222" stroke-width="0.12">• SS-Pulmonary: HR 1.3, 95% CI 0.65-2.5; <tspan font-style="italic">P</tspan> = .048</text>
<text x="375.50" y="218.20" font-size="5.9" text-anchor="start" fill="#222" font-weight="normal" font-style="normal" textLength="118.2" lengthAdjust="spacingAndGlyphs" stroke="#222" stroke-width="0.12">• MS/MF: HR 2.7, 95% CI 1.46-5.1; <tspan font-style="italic">P</tspan> = .001</text>
<text x="375.50" y="226.20" font-size="5.9" text-anchor="start" fill="#222" font-weight="normal" font-style="normal" textLength="108.3" lengthAdjust="spacingAndGlyphs" stroke="#222" stroke-width="0.12">• RO+: HR 4.6, 95% CI 2.2-9.3; <tspan font-style="italic">P</tspan> &lt; .001</text>
<path d="M0,0.5H520" stroke="#575757" stroke-width="1"/>
<path d="M0,349.5H520" stroke="#4a4a4a" stroke-width="1"/>
<path d="M0.5,0V350" stroke="#6a6a6a" stroke-width="1"/>
<path d="M519.5,0V350" stroke="#505050" stroke-width="1"/>
</svg>
</body></html>
